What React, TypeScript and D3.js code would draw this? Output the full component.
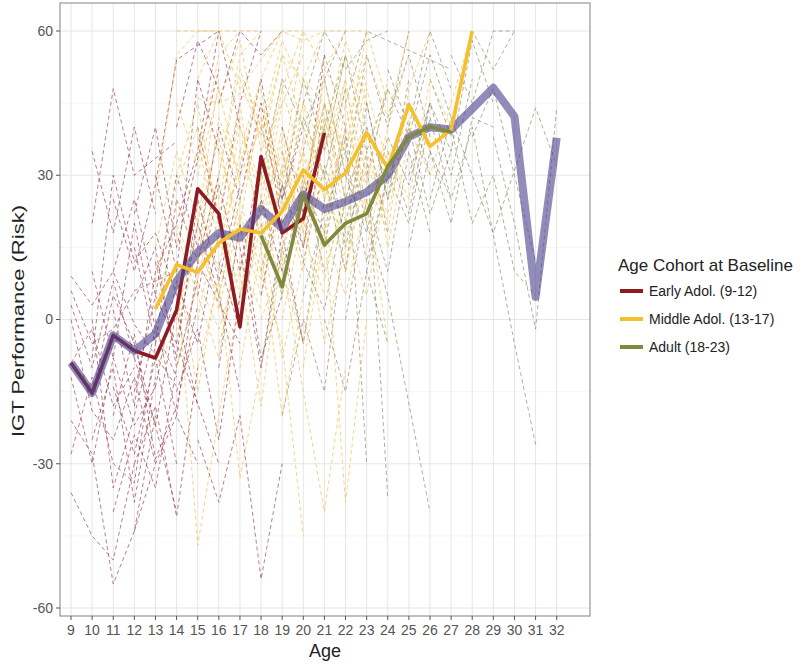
import React from "react";
import * as d3 from "d3";

// ---- Data ----
const ages = d3.range(9, 33);
const yTicks = [-60, -30, 0, 30, 60];
const yMinor = [-45, -15, 15, 45];

const overallAges = [9, 10, 11, 12, 13, 14, 15, 16, 17, 18, 19, 20, 21, 22, 23, 24, 25, 26, 27, 28, 29, 30, 31, 32];
const overallVals = [-9, -15.3, -3.3, -6.5, -3, 8, 14, 18, 17, 23, 19, 26, 23, 24.5, 26.5, 30, 38, 40, 39.5, 43.8, 48.2, 42.2, 4.7, 37.8];

const earlyAges = [9, 10, 11, 12, 13, 14, 15, 16, 17, 18, 19, 20, 21];
const earlyVals = [-9, -15.3, -3.3, -6.5, -8, 2, 27.2, 22, -1.5, 33.9, 18, 21, 38.8];

const middleAges = [13, 14, 15, 16, 17, 18, 19, 20, 21, 22, 23, 24, 25, 26, 27, 28];
const middleVals = [2.2, 11.4, 9.8, 15.9, 18.8, 18, 22.5, 31.1, 27, 30.5, 38.8, 31.5, 44.7, 36, 39.5, 60];

const adultAges = [18, 19, 20, 21, 22, 23, 24, 25, 26, 27];
const adultVals = [17.5, 6.8, 26, 15.5, 20, 22, 31.8, 38, 40.1, 39];

// individual trajectories, "age:value" pairs
const earlyTraj = [
  "9:-9 10:-2 11:-18 12:-10",
  "9:9 10:3 11:10 12:-1 14:-14",
  "9:-36 10:-45 11:-50 12:-30",
  "9:-21 10:-28 11:-55 12:-44 13:-20",
  "9:0 10:-19 11:-25 12:-12 13:-30",
  "9:6 10:-5 11:-2 12:6 14:10",
  "9:-28 10:-12 11:-30 12:-34 13:-5",
  "10:20 11:48 12:30 14:37",
  "10:-8 11:30 12:12 13:18 14:5",
  "10:-25 11:-10 12:-38 13:-12",
  "10:-16 11:5 12:-5 13:-22 14:-40",
  "10:10 11:-8 12:20 13:-2",
  "11:-20 12:-3 13:-29 14:-18 15:3",
  "11:25 12:10 13:28 14:54 16:60",
  "11:-14 12:-28 13:-8 14:-30",
  "11:2 12:-18 13:10 14:20",
  "12:4 13:15 14:-10 15:8",
  "12:-15 13:5 14:-5 16:-30",
  "12:-44 13:-30 14:-20 15:-30",
  "12:15 13:-5 14:25 15:12 16:30",
  "12:-30 13:-18 14:-41 15:-10",
  "12:22 13:40 14:15 16:52",
  "13:-14 14:8 15:-5 16:18",
  "13:30 14:10 15:50 16:35",
  "13:0 14:-20 15:12 17:-5",
  "14:20 15:35 16:60 17:40",
  "14:-5 15:20 16:5 17:-15",
  "15:-25 16:-38 17:-20 18:-54 19:-30",
  "15:40 16:20 17:45 18:60",
  "15:5 16:28 17:10 18:34",
  "16:12 17:-2 18:25 19:10",
  "16:45 17:60 18:55 19:60",
  "17:15 18:-10 19:18 20:-5",
  "17:30 18:50 19:25 20:40",
  "18:5 19:28 20:15 21:38",
  "19:40 20:22 21:55",
  "16:-10 17:20 18:-8 19:5",
  "14:40 15:58 16:48",
  "9:-12 10:-30 11:-8 12:-22 13:-14",
  "9:3 10:-10 11:8 12:-8",
  "10:0 11:-35 12:-20 13:-2 14:-12",
  "11:10 12:25 13:5 14:30 15:15",
  "12:-8 13:-22 14:2 15:-18",
  "13:12 14:-8 15:25 16:8 17:28",
  "14:-15 15:-2 16:-25 17:5",
  "11:-40 12:-24 13:-35 14:-10",
  "10:35 11:18 12:40 13:22",
  "15:15 16:40 17:25 18:45 19:20",
];

const middleTraj = [
  "13:2 14:20 15:8 16:30",
  "13:-10 14:-2 15:15 16:5 17:25",
  "13:15 14:35 15:20 16:50",
  "13:-5 14:12 15:-15 16:10",
  "13:25 14:55 15:60 16:60",
  "14:10 15:-47 16:-20 17:5",
  "14:30 15:45 16:20 18:40",
  "14:0 15:20 16:38 17:15",
  "14:18 15:5 16:-8 17:20",
  "15:12 16:30 17:55 18:60",
  "15:-10 16:8 17:-33 18:-10",
  "15:25 16:10 17:35 18:22 19:45",
  "15:50 16:60 17:48 19:60",
  "15:0 16:22 17:5 18:30",
  "16:15 17:40 18:28 19:50",
  "16:-5 17:10 18:-18 19:15",
  "16:35 17:20 18:45 19:30 20:60",
  "16:5 17:25 18:10 19:-5 20:-45",
  "16:45 17:58 18:35 20:55",
  "17:20 18:5 19:25 20:10 21:40",
  "17:-10 18:15 19:-20 20:5",
  "17:35 18:50 19:60 20:60",
  "17:10 18:30 19:18 20:35 21:22",
  "17:50 18:38 19:55 21:45",
  "18:18 19:40 20:25 21:50 22:30",
  "18:0 19:12 20:-15 21:-40 22:-10",
  "18:42 19:28 20:50 21:60",
  "18:25 19:5 20:30 21:15 22:45",
  "19:30 20:45 21:35 22:55 23:40",
  "19:10 20:-5 21:20 22:-38 23:0",
  "19:48 20:60 21:52 22:60",
  "19:20 20:35 21:8 22:28 23:50",
  "20:15 21:30 22:10 23:35 24:20",
  "20:40 21:25 22:48 23:30",
  "20:-10 21:18 22:5 23:25 24:-5",
  "20:28 21:45 22:35 23:60 24:45",
  "21:10 22:25 23:40 24:15 25:38",
  "21:35 22:50 23:22 24:40 25:55",
  "22:20 23:5 24:30 25:45 26:35",
  "22:40 23:55 24:42 25:60",
  "23:15 24:35 25:25 26:50 27:40",
  "23:30 24:18 25:48 26:60",
  "24:25 25:40 26:30 27:45 28:60",
  "18:55 19:60 20:58 21:60 22:60 23:60",
  "14:45 15:32 16:55 17:60",
  "16:25 17:45 18:15 19:38",
  "15:30 16:48 17:28",
  "19:0 20:22 21:-5 22:15",
  "14:60 15:60 16:60 17:60 18:60",
  "15:46 16:45 17:47 18:44",
  "13:8 14:28 15:40 16:22 17:42",
  "14:-10 15:8 16:-2 17:12 18:2",
  "15:20 16:2 17:22 18:8 19:30",
  "16:30 17:52 18:40 19:58 20:48",
  "17:25 18:42 19:12 20:38 21:30",
  "18:10 19:32 20:20 21:42 22:25",
  "19:38 20:18 21:42 22:35 23:52",
  "20:50 21:38 22:58 23:45",
  "21:20 22:40 23:28 24:50",
  "22:10 23:32 24:22 25:42",
  "16:18 17:0 18:20 19:-8 20:12",
  "17:40 18:25 19:48 20:32",
  "18:35 19:55 20:40 21:30 22:50",
  "19:15 20:28 21:45 22:20 23:38",
  "15:38 16:15 17:32 18:50",
  "20:20 21:52 22:45 23:20 24:38",
  "21:28 22:15 23:48 24:32",
  "14:25 15:12 16:42 17:30",
  "17:5 18:22 19:35 20:18 21:5",
  "18:48 19:22 20:45 21:25 22:38",
];

const adultTraj = [
  "18:20 19:5 20:30 21:10",
  "18:40 19:25 20:50 21:35 22:55",
  "18:-10 19:15 20:-5 21:25",
  "18:30 19:50 20:40 22:60",
  "19:10 20:28 21:18 22:40 23:-30",
  "19:35 20:15 21:45 22:25",
  "19:-20 20:0 21:-15 22:20",
  "20:25 21:40 22:15 23:35 24:-37",
  "20:45 21:60 22:52 23:58 24:60",
  "20:5 21:22 22:35 23:12 24:30",
  "21:30 22:10 23:45 24:25 25:50",
  "21:15 22:38 23:20 24:5 26:-40",
  "21:50 22:30 23:55 24:40 25:60",
  "22:20 23:40 24:28 25:45 26:30",
  "22:0 23:25 24:10 25:35 26:18",
  "22:45 23:60 24:58 27:52",
  "23:30 24:48 25:38 26:55 27:42",
  "23:10 24:30 25:20 26:42 27:25",
  "24:35 25:22 26:45 27:30 28:50",
  "24:52 25:40 26:60 27:48",
  "25:30 26:45 27:35 28:58 29:45",
  "25:15 26:35 27:25 28:40 30:-5 31:-26",
  "26:50 27:38 28:60 29:52 30:60",
  "26:25 27:42 28:30 29:18 31:44 32:32",
  "27:40 28:20 29:30 30:10 31:5",
  "27:55 28:45 29:60 30:60",
  "28:38 29:48 30:30 31:12",
  "29:38 30:20 31:-2 32:44",
  "26:35 27:20 28:42 29:40",
  "24:42 25:55 26:38",
  "21:0 22:-15 23:10 24:-5",
  "20:35 21:55 22:40",
  "18:10 19:28 20:12 21:32 22:18",
  "19:25 20:42 21:30 22:48",
  "20:12 21:2 22:25 23:40 24:18",
  "22:30 23:18 24:38 25:28 26:45",
  "23:45 24:25 25:40 26:22 27:35",
  "21:40 22:55 23:35 24:48",
];

const cohortNames = ["Early Adol. (9-12)", "Middle Adol. (13-17)", "Adult (18-23)"];
const cohortColors = ["#8e1b22", "#f5c02c", "#7f8a3f"];
const dashColors = ["#8a2a3c", "#eebd45", "#7f7a56"];

const parse = (s: string) => s.split(" ").map((p) => p.split(":").map(Number) as [number, number]);

export default function App() {
  const W = 800, H = 664;
  const pl = 60, pr = 590, pt = 3, pb = 616;
  const x = d3.scaleLinear().domain([9, 32]).range([71, 556.7]);
  const y = d3.scaleLinear().domain([-60, 60]).range([608, 31]);
  const line = d3.line<[number, number]>().x((d) => x(d[0])).y((d) => y(d[1]));
  const zip = (a: number[], b: number[]) => a.map((v, i) => [v, b[i]] as [number, number]);

  const font = "'Liberation Sans', Arial, Helvetica, sans-serif";
  const trajSets = [earlyTraj, middleTraj, adultTraj];
  const allTraj: { c: number; pts: [number, number][] }[] = [];
  const maxLen = Math.max(...trajSets.map((t) => t.length));
  for (let i = 0; i < maxLen; i++) {
    trajSets.forEach((set, c) => {
      if (i < set.length) allTraj.push({ c, pts: parse(set[i]) });
    });
  }

  return (
    <svg width={W} height={H} style={{ position: "absolute", left: 0, top: 0, background: "#fff" }} fontFamily={font}>
      <defs>
        <clipPath id="panel">
          <rect x={pl} y={pt} width={pr - pl} height={pb - pt} />
        </clipPath>
      </defs>
      <rect x={0} y={0} width={W} height={H} fill="#fff" />
      {yMinor.map((v) => (
        <line key={"ym" + v} x1={pl} x2={pr} y1={y(v)} y2={y(v)} stroke="#f0f0f0" strokeWidth={0.7} />
      ))}
      {yTicks.map((v) => (
        <line key={"yg" + v} x1={pl} x2={pr} y1={y(v)} y2={y(v)} stroke="#e6e6e6" strokeWidth={1} />
      ))}
      {ages.map((a) => (
        <line key={"xg" + a} x1={x(a)} x2={x(a)} y1={pt} y2={pb} stroke="#e6e6e6" strokeWidth={1} />
      ))}
      <g clipPath="url(#panel)">
        {allTraj.map((t, i) => (
          <path
            key={i}
            d={line(t.pts) || ""}
            fill="none"
            stroke={dashColors[t.c]}
            strokeOpacity={t.c === 1 ? 0.65 : 0.6}
            strokeWidth={1}
            strokeDasharray="4 3"
          />
        ))}
        <path d={line(zip(earlyAges, earlyVals)) || ""} fill="none" stroke={cohortColors[0]} strokeWidth={3.6} strokeLinejoin="round" />
        <path d={line(zip(overallAges, overallVals)) || ""} fill="none" stroke="#4e4590" strokeOpacity={0.62} strokeWidth={8} strokeLinejoin="round" />
        <path d={line(zip(middleAges, middleVals)) || ""} fill="none" stroke={cohortColors[1]} strokeWidth={3.6} strokeLinejoin="round" />
        <path d={line(zip(adultAges, adultVals)) || ""} fill="none" stroke={cohortColors[2]} strokeWidth={3.6} strokeLinejoin="round" />
      </g>
      <rect x={pl} y={pt} width={pr - pl} height={pb - pt} fill="none" stroke="#8c8c8c" strokeWidth={1.1} />
      {yTicks.map((v) => (
        <g key={"yt" + v}>
          <line x1={pl - 4} x2={pl} y1={y(v)} y2={y(v)} stroke="#555" strokeWidth={1} />
          <text x={pl - 7} y={y(v)} dy="0.35em" textAnchor="end" fontSize={14} fill="#555">
            {v}
          </text>
        </g>
      ))}
      {ages.map((a) => (
        <g key={"xt" + a}>
          <line x1={x(a)} x2={x(a)} y1={pb} y2={pb + 4} stroke="#555" strokeWidth={1} />
          <text x={x(a)} y={pb + 19} textAnchor="middle" fontSize={14} fill="#555">
            {a}
          </text>
        </g>
      ))}
      <text x={(pl + pr) / 2} y={657} textAnchor="middle" fontSize={18} fill="#222">
        Age
      </text>
      <text
        transform={`translate(24, 321) rotate(-90)`}
        textAnchor="middle"
        fontSize={17}
        fill="#222"
        textLength={232}
        lengthAdjust="spacingAndGlyphs"
      >
        IGT Performance (Risk)
      </text>
      <text x={618} y={271} fontSize={17} fill="#222">
        Age Cohort at Baseline
      </text>
      {cohortNames.map((n, i) => {
        const ly = 291 + i * 28;
        return (
          <g key={n}>
            <line x1={620} x2={643} y1={ly} y2={ly} stroke={cohortColors[i]} strokeWidth={4} />
            <text x={649} y={ly} dy="0.36em" fontSize={14} fill="#222">
              {n}
            </text>
          </g>
        );
      })}
    </svg>
  );
}
